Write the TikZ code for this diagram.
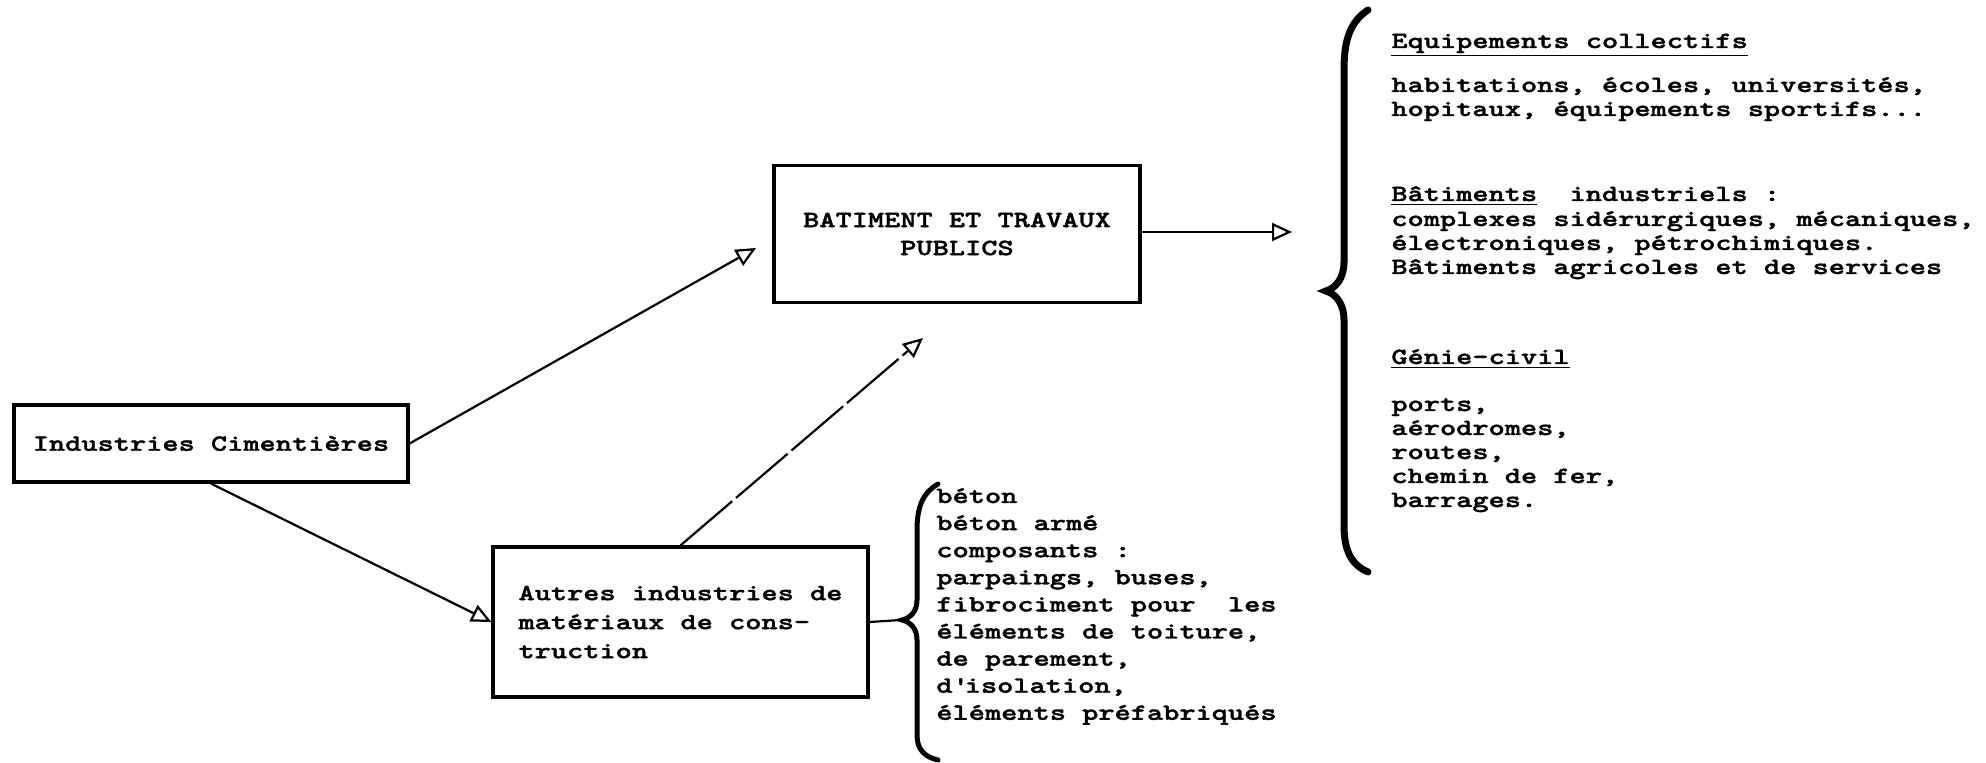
\documentclass[tikz,border=0pt]{standalone}
\usepackage{fontspec}
\usetikzlibrary{arrows.meta}
\newfontfamily\typew{lmmonolt10-bold.otf}[FakeStretch=1.33,FakeBold=1.6]

\begin{document}
\begin{tikzpicture}[x=0.5pt,y=-0.5pt,
  box/.style={draw,line width=1.6pt,inner sep=0pt,font=\typew\fontsize{11.6}{14}\selectfont},
  conn/.style={line width=1.1pt,-{Triangle[open,length=10pt,width=9pt,line width=1.1pt]}},
  txt/.style={anchor=base west,inner sep=0pt,font=\typew\fontsize{11.6}{12}\selectfont},
  brace/.style={line width=3.5pt,line cap=round}]
\useasboundingbox (0,0) rectangle (1986,763);

\node[box,minimum width=197pt,minimum height=38.5pt] (cim) at (211,443.5) {Industries Cimentières};
\node[box,minimum width=183pt,minimum height=68.5pt,align=center] (btp) at (957,234) {BATIMENT ET TRAVAUX\\PUBLICS};
\node[box,minimum width=187.5pt,minimum height=75pt,align=left,
  font=\typew\fontsize{11.6}{14.5}\selectfont] (autres) at (680.5,622) {Autres industries de\\matériaux de cons-\\truction};

\coordinate (btpin) at (756,248);
\coordinate (btpup) at (923,338);
\coordinate (bigtip) at (1292,232);
\coordinate (smalltip) at (901,620);

\draw[conn] (cim.east) -- (btpin);
\draw[conn] (cim.south) -- (autres.west);
\draw[conn,dash pattern=on 34pt off 2.5pt] (autres.north) -- (btpup);
\draw[conn] (btp.east |- bigtip) -- (bigtip);
\draw[line width=1.1pt] (autres.east) -- (smalltip);

% accolades
\draw[brace] (1368,10) .. controls (1350,22) and (1344,40) .. (1344,70) -- (1344,262)
  .. controls (1344,278) and (1336,288) .. (1326,291) .. controls (1336,294) and (1344,304) .. (1344,320)
  -- (1344,525) .. controls (1344,552) and (1352,565) .. (1368,572);
\draw[brace,line width=2.5pt] (938,484) .. controls (924,492) and (917,505) .. (917,530) -- (917,600)
  .. controls (917,612) and (910,618) .. (902,620) .. controls (910,622) and (917,628) .. (917,640)
  -- (917,735) .. controls (917,750) and (925,757) .. (938,760);

\foreach \yy/\lbl [count=\i] in {
  48/{\underline{Equipements collectifs}},
  92/{habitations, écoles, universités,},
  116/{hopitaux, équipements sportifs...},
  201/{\underline{Bâtiments}\ \ industriels :},
  226/{complexes sidérurgiques, mécaniques,},
  250/{électroniques, pétrochimiques.},
  274/{Bâtiments agricoles et de services},
  364/{\underline{Génie-civil}},
  411/{ports,},
  435/{aérodromes,},
  459/{routes,},
  483/{chemin de fer,},
  507/{barrages.}}
  \node[txt] (usage\i) at (1391,\yy) {\lbl};

\foreach \lbl [count=\i from 0] in {béton, béton armé, composants :, {parpaings, buses,},
  fibrociment pour\ \ les, {éléments de toiture,}, {de parement,}, {d\textquotesingle isolation,},
  éléments préfabriqués}
  \node[txt] (mat\i) at (936,503+27.1*\i) {\lbl};
\end{tikzpicture}
\end{document}
